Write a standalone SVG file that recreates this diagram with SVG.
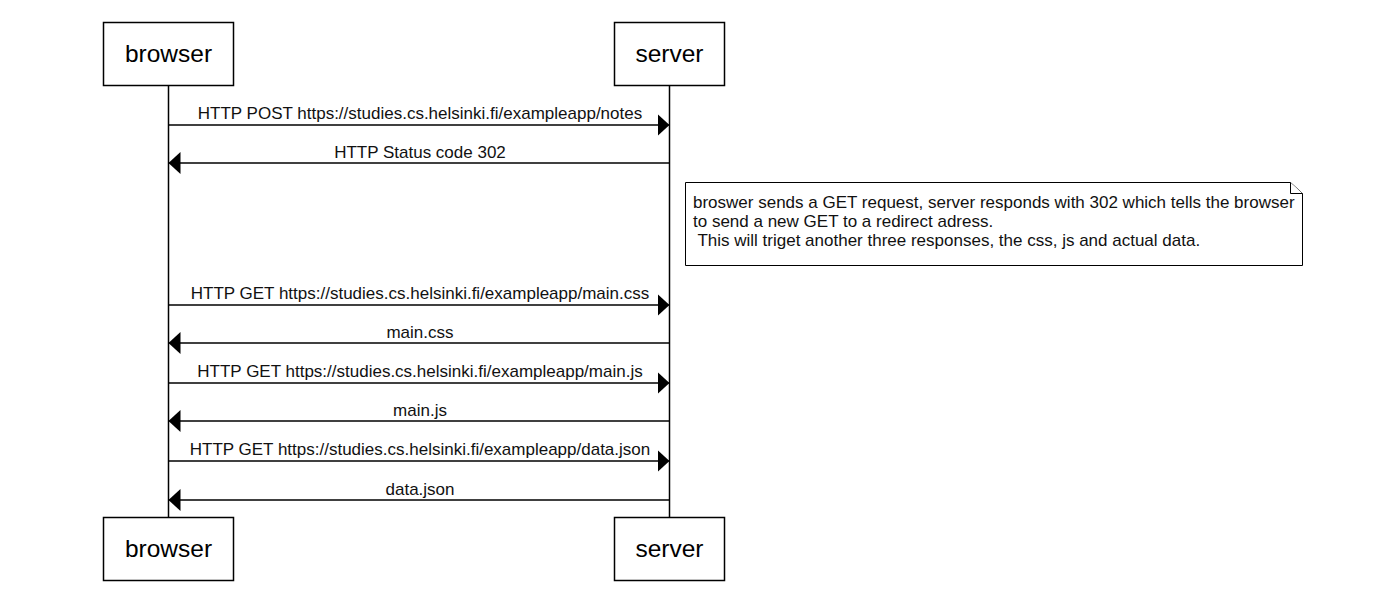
<svg xmlns="http://www.w3.org/2000/svg" width="1382" height="595" viewBox="0 0 1382 595">
<style>
.box{fill:#fff;stroke:#000;stroke-width:1.5}
.actor{font-family:"Liberation Sans",Arial,sans-serif;font-size:24.5px;text-anchor:middle;fill:#000}
.life{stroke:#000;stroke-width:1.5;fill:none}
.msg{stroke:#000;stroke-width:1.5;fill:none}
.lbl{font-family:"Liberation Sans",Arial,sans-serif;font-size:17px;text-anchor:middle;fill:#111}
.note{fill:#fff;stroke:#000;stroke-width:1}
.ntxt{font-family:"Liberation Sans",Arial,sans-serif;font-size:17px;fill:#111}
</style>
<defs>
<marker id="ah" viewBox="0 0 12 22" refX="12" refY="11" markerWidth="12" markerHeight="22" markerUnits="userSpaceOnUse" orient="auto">
<path d="M0,0 L12,11 L0,22 Z" fill="#000"/>
</marker>
</defs>
<rect width="1382" height="595" fill="#fff"/>
<g id="lifelines">
<line class="life" x1="168.5" y1="85" x2="168.5" y2="517"/>
<line class="life" x1="669.5" y1="85" x2="669.5" y2="517"/>
</g>
<g id="browser-top"><rect class="box" x="103.5" y="22.5" width="130" height="63"/><text class="actor" x="168.5" y="62">browser</text></g>
<g id="server-top"><rect class="box" x="614.5" y="22.5" width="110" height="63"/><text class="actor" x="669.5" y="62">server</text></g>
<g id="browser-bottom"><rect class="box" x="103.5" y="517.5" width="130" height="63"/><text class="actor" x="168.5" y="557">browser</text></g>
<g id="server-bottom"><rect class="box" x="614.5" y="517.5" width="110" height="63"/><text class="actor" x="669.5" y="557">server</text></g>
<g id="connectors">
<line class="msg" x1="168.5" y1="125" x2="669.5" y2="125" marker-end="url(#ah)"/>
<line class="msg" x1="669.5" y1="163" x2="168.5" y2="163" marker-end="url(#ah)"/>
<line class="msg" x1="168.5" y1="305" x2="669.5" y2="305" marker-end="url(#ah)"/>
<line class="msg" x1="669.5" y1="343" x2="168.5" y2="343" marker-end="url(#ah)"/>
<line class="msg" x1="168.5" y1="383" x2="669.5" y2="383" marker-end="url(#ah)"/>
<line class="msg" x1="669.5" y1="421" x2="168.5" y2="421" marker-end="url(#ah)"/>
<line class="msg" x1="168.5" y1="461" x2="669.5" y2="461" marker-end="url(#ah)"/>
<line class="msg" x1="669.5" y1="500" x2="168.5" y2="500" marker-end="url(#ah)"/>
<text class="lbl" x="420" y="119">HTTP POST https://studies.cs.helsinki.fi/exampleapp/notes</text>
<text class="lbl" x="420" y="157.5">HTTP Status code 302</text>
<text class="lbl" x="420" y="299">HTTP GET https://studies.cs.helsinki.fi/exampleapp/main.css</text>
<text class="lbl" x="420" y="337.5">main.css</text>
<text class="lbl" x="420" y="377">HTTP GET https://studies.cs.helsinki.fi/exampleapp/main.js</text>
<text class="lbl" x="420" y="415.5">main.js</text>
<text class="lbl" x="420" y="455">HTTP GET https://studies.cs.helsinki.fi/exampleapp/data.json</text>
<text class="lbl" x="420" y="494.5">data.json</text>
</g>
<g id="note">
<path class="note" d="M685.5,182.5 H1290.5 L1302.5,193.5 V265.5 H685.5 Z"/>
<path class="note" d="M1290.5,182.5 V193.5 H1302.5" fill="none"/>
<text class="ntxt" x="693" y="208">broswer sends a GET request, server responds with 302 which tells the browser</text>
<text class="ntxt" x="693" y="227">to send a new GET to a redirect adress.</text>
<text class="ntxt" x="693" y="246" xml:space="preserve"> This will triget another three responses, the css, js and actual data.</text>
</g>
</svg>
